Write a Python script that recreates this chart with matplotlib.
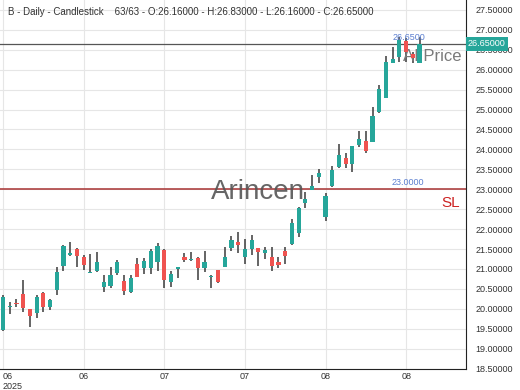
import numpy as np
import matplotlib
matplotlib.use("Agg")
import matplotlib.pyplot as plt

plt.rcParams['font.family'] = ['Liberation Sans', 'DejaVu Sans']

# daily candles (63 sessions)
opens = [19.47, 20.05, 20.15, 20.37, 19.99, 19.89, 20.40, 20.05, 20.47, 21.07,
         21.36, 21.49, 21.30, 20.90, 20.96, 20.55, 20.57, 20.89, 20.70, 20.43,
         21.12, 21.02, 21.02, 21.17, 21.48, 20.67, 20.99, 21.29, 21.23, 21.28,
         21.03, 20.79, 20.97, 21.04, 21.52, 21.68, 21.29, 21.49, 21.53, 21.39,
         21.31, 21.18, 21.45, 21.63, 21.90, 22.65, 22.98, 23.32, 22.30, 23.07,
         23.57, 23.78, 23.63, 24.11, 24.22, 24.19, 24.95, 25.28, 26.16, 26.33,
         26.72, 26.40, 26.16]
highs = [20.35, 20.18, 20.25, 20.72, 20.00, 20.35, 20.43, 20.24, 21.05, 21.60,
         21.68, 21.53, 21.35, 21.38, 21.43, 20.85, 21.06, 21.22, 20.85, 20.85,
         21.27, 21.28, 21.50, 21.64, 21.50, 20.95, 21.06, 21.39, 21.43, 21.31,
         21.45, 20.85, 20.98, 21.54, 21.83, 21.92, 21.74, 21.85, 21.53, 21.56,
         21.54, 21.29, 21.56, 22.25, 22.56, 22.94, 23.36, 23.50, 22.90, 23.58,
         24.14, 23.90, 24.09, 24.47, 24.47, 25.06, 25.62, 26.35, 26.58, 26.83,
         26.79, 26.45, 26.83]
lows = [19.45, 19.87, 20.05, 19.93, 19.55, 19.77, 19.93, 19.97, 20.35, 20.96,
        21.33, 21.06, 20.97, 20.89, 20.93, 20.43, 20.52, 20.85, 20.35, 20.39,
        20.81, 20.87, 20.87, 20.95, 20.53, 20.55, 20.78, 21.18, 21.20, 20.72,
        20.93, 20.51, 20.65, 21.04, 21.46, 21.39, 21.12, 21.35, 21.07, 21.24,
        20.96, 21.02, 21.12, 21.60, 21.79, 22.52, 22.98, 23.15, 22.20, 23.05,
        23.53, 23.53, 23.44, 24.07, 23.92, 24.19, 24.92, 25.28, 26.16, 26.20,
        26.20, 26.16, 26.16]
closes = [20.30, 20.08, 20.12, 20.01, 19.82, 20.30, 20.05, 20.22, 20.93, 21.58,
          21.40, 21.33, 21.10, 20.92, 21.17, 20.67, 20.85, 21.18, 20.45, 20.78,
          20.81, 21.20, 21.45, 21.58, 20.72, 20.87, 21.04, 21.23, 21.25, 21.02,
          21.18, 20.80, 20.68, 21.29, 21.73, 21.60, 21.50, 21.73, 21.42, 21.48,
          21.07, 21.10, 21.33, 22.16, 22.52, 22.75, 23.07, 23.40, 22.83, 23.48,
          23.86, 23.63, 24.09, 24.25, 23.97, 24.84, 25.51, 26.20, 26.26, 26.75,
          26.45, 26.30, 26.65]

tick_pos = [0, 12, 24, 36, 48, 60]
tick_labels = ['06\n2025', '06', '07', '07', '08', '08']
yticks = np.arange(18.5, 27.51, 0.5)

last_price = 26.65
sl_level = 23.0
title = ('B - Daily - Candlestick    63/63 - O:26.16000 - H:26.83000 - '
         'L:26.16000 - C:26.65000')

up_col = '#26a69a'
down_col = '#ef5350'
wick_col = '#3a3a3a'

fig = plt.figure(figsize=(5.2, 3.9), dpi=100)
ax = fig.add_axes([0.0, 0.054, 0.896, 0.946])

x = np.arange(len(opens))
o = np.array(opens); h = np.array(highs); l = np.array(lows); c = np.array(closes)
cols = np.where(c >= o, up_col, down_col)

ax.vlines(x, l, h, color=wick_col, lw=1.1, zorder=3)
body = np.maximum(np.abs(c - o), 0.025)
ax.bar(x, body, bottom=np.minimum(o, c), width=0.62, color=cols, zorder=4)

# lines
ax.axhline(last_price, color='#555555', lw=0.9, zorder=2)
ax.axhline(sl_level, color='#a83232', lw=1.1, zorder=2)

ax.text(60.4, 26.70, '26.6500', color='#5b7fd0', fontsize=6.5,
        ha='center', va='bottom', zorder=5)
ax.text(60.3, 23.05, '23.0000', color='#5b7fd0', fontsize=6.5,
        ha='center', va='bottom', zorder=5)
ax.text(59.6, 26.32, 'AI Price', color='#7a7a7a', fontsize=12,
        ha='left', va='center', zorder=3.5)
ax.text(66.7, 22.66, 'SL', color='#cc2222', fontsize=11,
        ha='center', va='center', zorder=5)
ax.text(37.9, 22.93, 'Arincen', color='#555555', fontsize=20,
        ha='center', va='center', alpha=0.9, zorder=6)

ax.set_xlim(-0.45, 68.9)
ax.set_ylim(18.49, 27.75)

ax.set_xticks(tick_pos)
ax.set_xticklabels(tick_labels, fontsize=6.5, color='#333333')
ax.get_xticklabels()[0].set_horizontalalignment('left')
ax.set_yticks(yticks)
ax.set_yticklabels(['%.5f' % v for v in yticks], fontsize=6.5, color='#333333')
ax.yaxis.tick_right()
ax.tick_params(axis='both', length=0)
ax.tick_params(axis='y', pad=7)
ax.tick_params(axis='x', pad=2)

ax.grid(color='#e6e6e6', lw=0.8, zorder=0)
ax.set_axisbelow(True)
for s in ['left', 'top']:
    ax.spines[s].set_visible(False)
ax.spines['right'].set_color('#222222')
ax.spines['bottom'].set_color('#222222')

# current price tag on the axis
ax.text(1.004, last_price, '%.5f' % last_price, transform=ax.get_yaxis_transform(),
        fontsize=6.5, color='white', ha='left', va='center', zorder=10,
        bbox=dict(boxstyle='square,pad=0.25', fc=up_col, ec='none'), clip_on=False)

fig.text(0.015, 0.968, title, fontsize=7, color='#333333', ha='left', va='center')

fig.savefig('out.png', dpi=100, facecolor='white')
